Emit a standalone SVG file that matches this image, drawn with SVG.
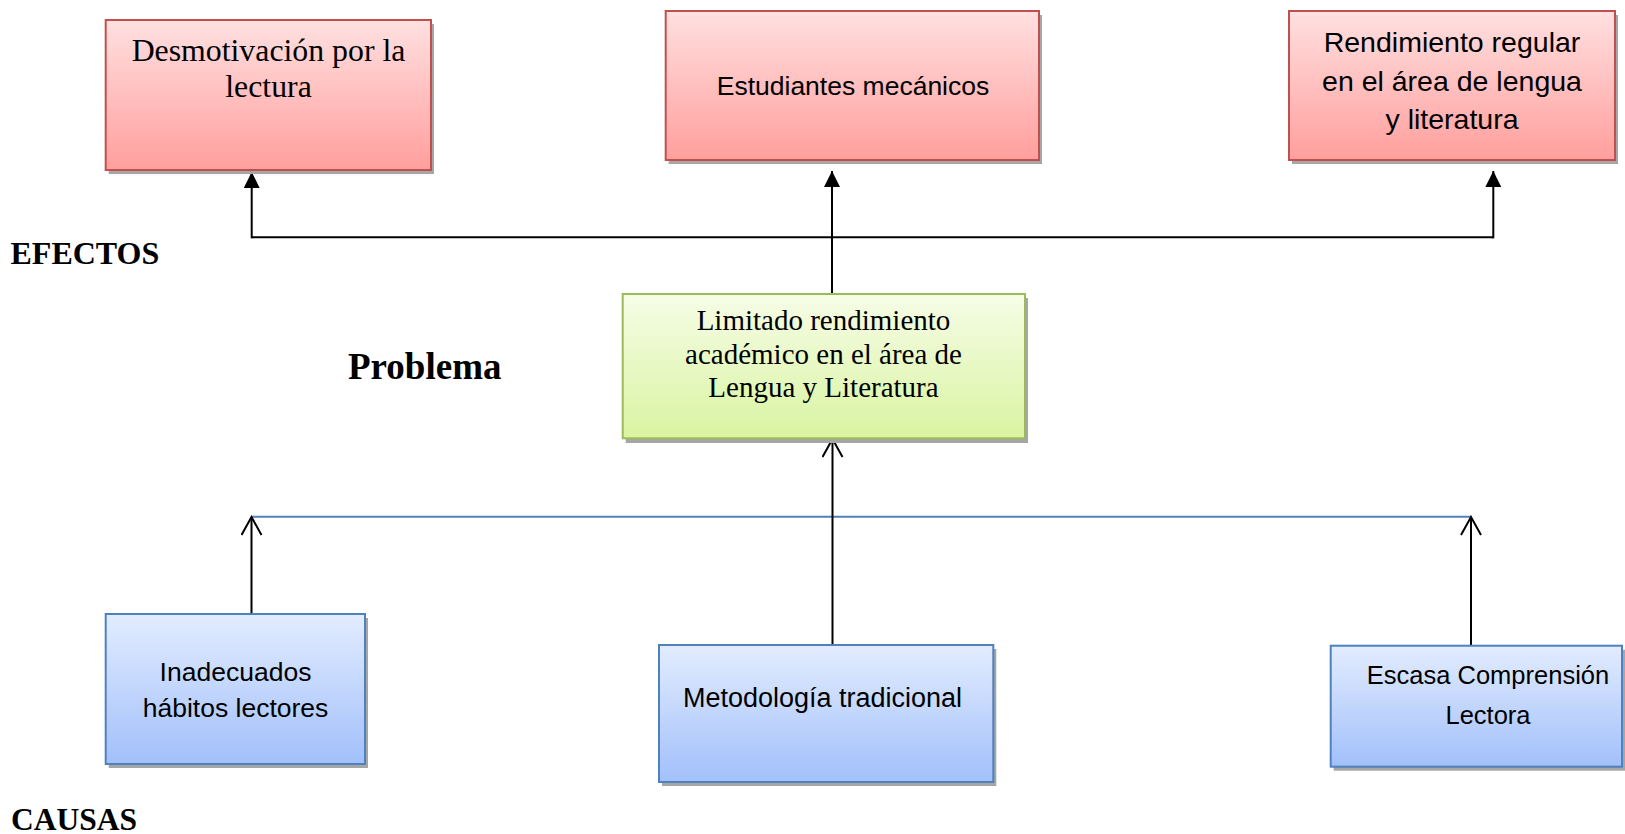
<svg xmlns="http://www.w3.org/2000/svg" width="1625" height="834" viewBox="0 0 1625 834">
<style>
.serif{font-family:"Liberation Serif","Times New Roman",serif;fill:#000;text-anchor:middle}
.sans{font-family:"Liberation Sans",Arial,sans-serif;fill:#000;text-anchor:middle}
.lbl{font-family:"Liberation Serif","Times New Roman",serif;font-weight:bold;fill:#000}
.shadow{fill:#a6a6a6}
.red{fill:url(#gRed);stroke:#c0504d;stroke-width:2}
.green{fill:url(#gGreen);stroke:#9bbb59;stroke-width:2}
.blue{fill:url(#gBlue);stroke:#4f81bd;stroke-width:2}
.conn{fill:none;stroke:#000;stroke-width:2}
</style>
<defs>
<linearGradient id="gRed" x1="0" y1="0" x2="0" y2="1">
<stop offset="0" stop-color="#ffe0e0"/><stop offset="1" stop-color="#ff9f9d"/>
</linearGradient>
<linearGradient id="gGreen" x1="0" y1="0" x2="0" y2="1">
<stop offset="0" stop-color="#f6fde6"/><stop offset="1" stop-color="#d9f4a2"/>
</linearGradient>
<linearGradient id="gBlue" x1="0" y1="0" x2="0" y2="1">
<stop offset="0" stop-color="#e2ecfe"/><stop offset="1" stop-color="#a2c0fb"/>
</linearGradient>
<marker id="solid" markerUnits="userSpaceOnUse" markerWidth="16" markerHeight="16" viewBox="0 0 15 15" refX="15" refY="7.5" orient="auto">
<path d="M0,0 L15,7.5 L0,15 z" fill="#000"/>
</marker>
<marker id="open" markerUnits="userSpaceOnUse" markerWidth="22" markerHeight="24" viewBox="-1 -1 21 24" refX="18" refY="10" orient="auto">
<path d="M0,0 L18,10 L0,20" fill="none" stroke="#000" stroke-width="2"/>
</marker>
</defs>

<g id="connectors">
<path class="conn" d="M251.7,237.3 H1493.3"/>
<path class="conn" d="M251.7,238.3 V172" marker-end="url(#solid)"/>
<path class="conn" d="M832,293 V171" marker-end="url(#solid)"/>
<path class="conn" d="M1493.3,238.3 V171" marker-end="url(#solid)"/>
<path d="M251.5,516.7 H1471" fill="none" stroke="#4f81bd" stroke-width="2"/>
<path class="conn" d="M251.5,614 V517" marker-end="url(#open)"/>
<path class="conn" d="M832.5,645 V439" marker-end="url(#open)"/>
<path class="conn" d="M1471,645.7 V517" marker-end="url(#open)"/>
</g>

<g id="efecto1">
<rect class="shadow" x="108.7" y="24" width="325.3" height="150"/>
<rect class="red" x="105.7" y="20" width="325.3" height="150"/>
<text class="serif" font-size="31.8" x="268.5" y="60.7">Desmotivación por la</text>
<text class="serif" font-size="31.8" x="268.5" y="96.7">lectura</text>
</g>

<g id="efecto2">
<rect class="shadow" x="668.7" y="15" width="373.3" height="149"/>
<rect class="red" x="665.7" y="11" width="373.3" height="149"/>
<text class="sans" font-size="26.5" x="853" y="94.5">Estudiantes mecánicos</text>
</g>

<g id="efecto3">
<rect class="shadow" x="1292" y="15" width="326" height="149"/>
<rect class="red" x="1289" y="11" width="326" height="149"/>
<text class="sans" font-size="28.5" x="1452" y="52">Rendimiento regular</text>
<text class="sans" font-size="28.5" x="1452" y="91">en el área de lengua</text>
<text class="sans" font-size="28.5" x="1452" y="129">y literatura</text>
</g>

<g id="problema">
<rect class="shadow" x="625.7" y="298" width="402.3" height="145"/>
<rect class="green" x="622.7" y="294" width="402.3" height="144.3"/>
<text class="serif" font-size="29" x="823.5" y="330">Limitado rendimiento</text>
<text class="serif" font-size="29" x="823.5" y="363.5">académico en el área de</text>
<text class="serif" font-size="29" x="823.5" y="396.5">Lengua y Literatura</text>
</g>

<g id="causa1">
<rect class="shadow" x="108.7" y="618" width="259.3" height="150"/>
<rect class="blue" x="105.7" y="614" width="259.3" height="150"/>
<text class="sans" font-size="26.5" x="235.5" y="680.5">Inadecuados</text>
<text class="sans" font-size="26.5" x="235.5" y="716.7">hábitos lectores</text>
</g>

<g id="causa2">
<rect class="shadow" x="662" y="649" width="334.3" height="137"/>
<rect class="blue" x="659" y="645" width="334.3" height="137"/>
<text class="sans" font-size="27" x="822.5" y="707">Metodología tradicional</text>
</g>

<g id="causa3">
<rect class="shadow" x="1333.7" y="649.7" width="292" height="121"/>
<rect class="blue" x="1330.7" y="645.7" width="291.3" height="121"/>
<text class="sans" font-size="25.5" x="1488" y="684">Escasa Comprensión</text>
<text class="sans" font-size="25.5" x="1488" y="724">Lectora</text>
</g>

<g id="labels">
<text class="lbl" font-size="32" x="10.5" y="264.3">EFECTOS</text>
<text class="lbl" font-size="37" x="348" y="379">Problema</text>
<text class="lbl" font-size="31.5" x="11" y="830">CAUSAS</text>
</g>
</svg>
